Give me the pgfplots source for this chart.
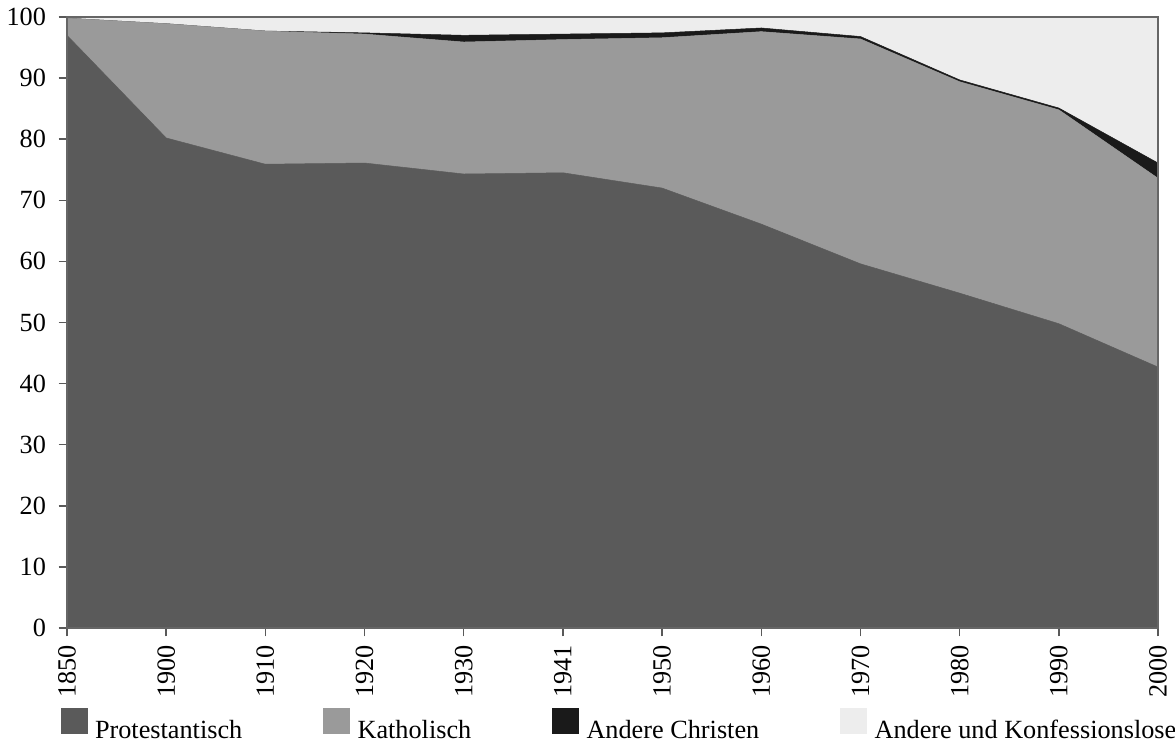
\documentclass[border=0pt]{standalone}
\usepackage{pgfplots}
\pgfplotsset{compat=1.18}
\usepackage{fontspec}
\setmainfont{Liberation Serif}

\definecolor{prot}{HTML}{5A5A5A}
\definecolor{kath}{HTML}{9A9A9A}
\definecolor{achr}{HTML}{1A1A1A}
\definecolor{ander}{HTML}{EDEDED}

% share of each confession in percent, one row per census year
\pgfplotstableread{
x  year  prot  kath  achr  ander
0  1850  97.0  2.8   0.0   0.2
1  1900  80.2  18.7  0.0   1.1
2  1910  75.9  21.8  0.0   2.3
3  1920  76.1  21.1  0.2   2.6
4  1930  74.3  21.6  1.1   3.0
5  1941  74.5  21.8  0.9   2.8
6  1950  72.0  24.6  0.8   2.6
7  1960  66.1  31.5  0.6   1.8
8  1970  59.6  36.8  0.4   3.2
9  1980  54.8  34.6  0.3   10.3
10 1990  49.8  35.0  0.3   14.9
11 2000  42.7  30.9  2.5   23.9
}\konf

\begin{document}
\begin{tikzpicture}
\useasboundingbox (-26.8pt,-47.6pt) rectangle (443.2pt,251.2pt);
\begin{axis}[
    scale only axis,
    width=436.4pt, height=244.4pt,
    xmin=0, xmax=11,
    ymin=0, ymax=100,
    stack plots=y,
    area style,
    xtick={0,...,11},
    xticklabels={1850,1900,1910,1920,1930,1941,1950,1960,1970,1980,1990,2000},
    ytick={0,10,...,100},
    tick align=outside,
    tick pos=left,
    major tick length=3.4pt,
    tick style={black!65, line width=0.6pt},
    axis line style={black!60, line width=0.6pt},
    /pgf/number format/assume math mode=true,
    yticklabel style={font=\fontsize{10.5}{12}\selectfont, xshift=-1.5pt},
    xticklabel style={font=\fontsize{10.5}{12}\selectfont, rotate=90, anchor=east},
    axis on top,
    legend columns=4,
    legend cell align=left,
    legend style={at={(-0.0064,-0.163)}, anchor=west, draw=none, fill=none,
        inner sep=0pt, font=\fontsize{10.5}{12}\selectfont,
        /tikz/every odd column/.append style={column sep=1.2pt},
        /tikz/every even column/.append style={column sep=30.3pt}},
    legend image code/.code={\fill[#1] (0pt,-1pt) rectangle (10.4pt,9.2pt);},
]
\addplot [fill=prot, draw=prot, line width=0.2pt] table [x=x, y=prot] {\konf} \closedcycle;
\addlegendentry{Protestantisch}
\addplot [fill=kath, draw=kath, line width=0.2pt] table [x=x, y=kath] {\konf} \closedcycle;
\addlegendentry{Katholisch}
\addplot [fill=achr, draw=achr, line width=0.2pt] table [x=x, y=achr] {\konf} \closedcycle;
\addlegendentry{Andere Christen}
\addplot [fill=ander, draw=ander, line width=0.2pt] table [x=x, y=ander] {\konf} \closedcycle;
\addlegendentry{Andere und Konfessionslose}
\end{axis}
\end{tikzpicture}
\end{document}
